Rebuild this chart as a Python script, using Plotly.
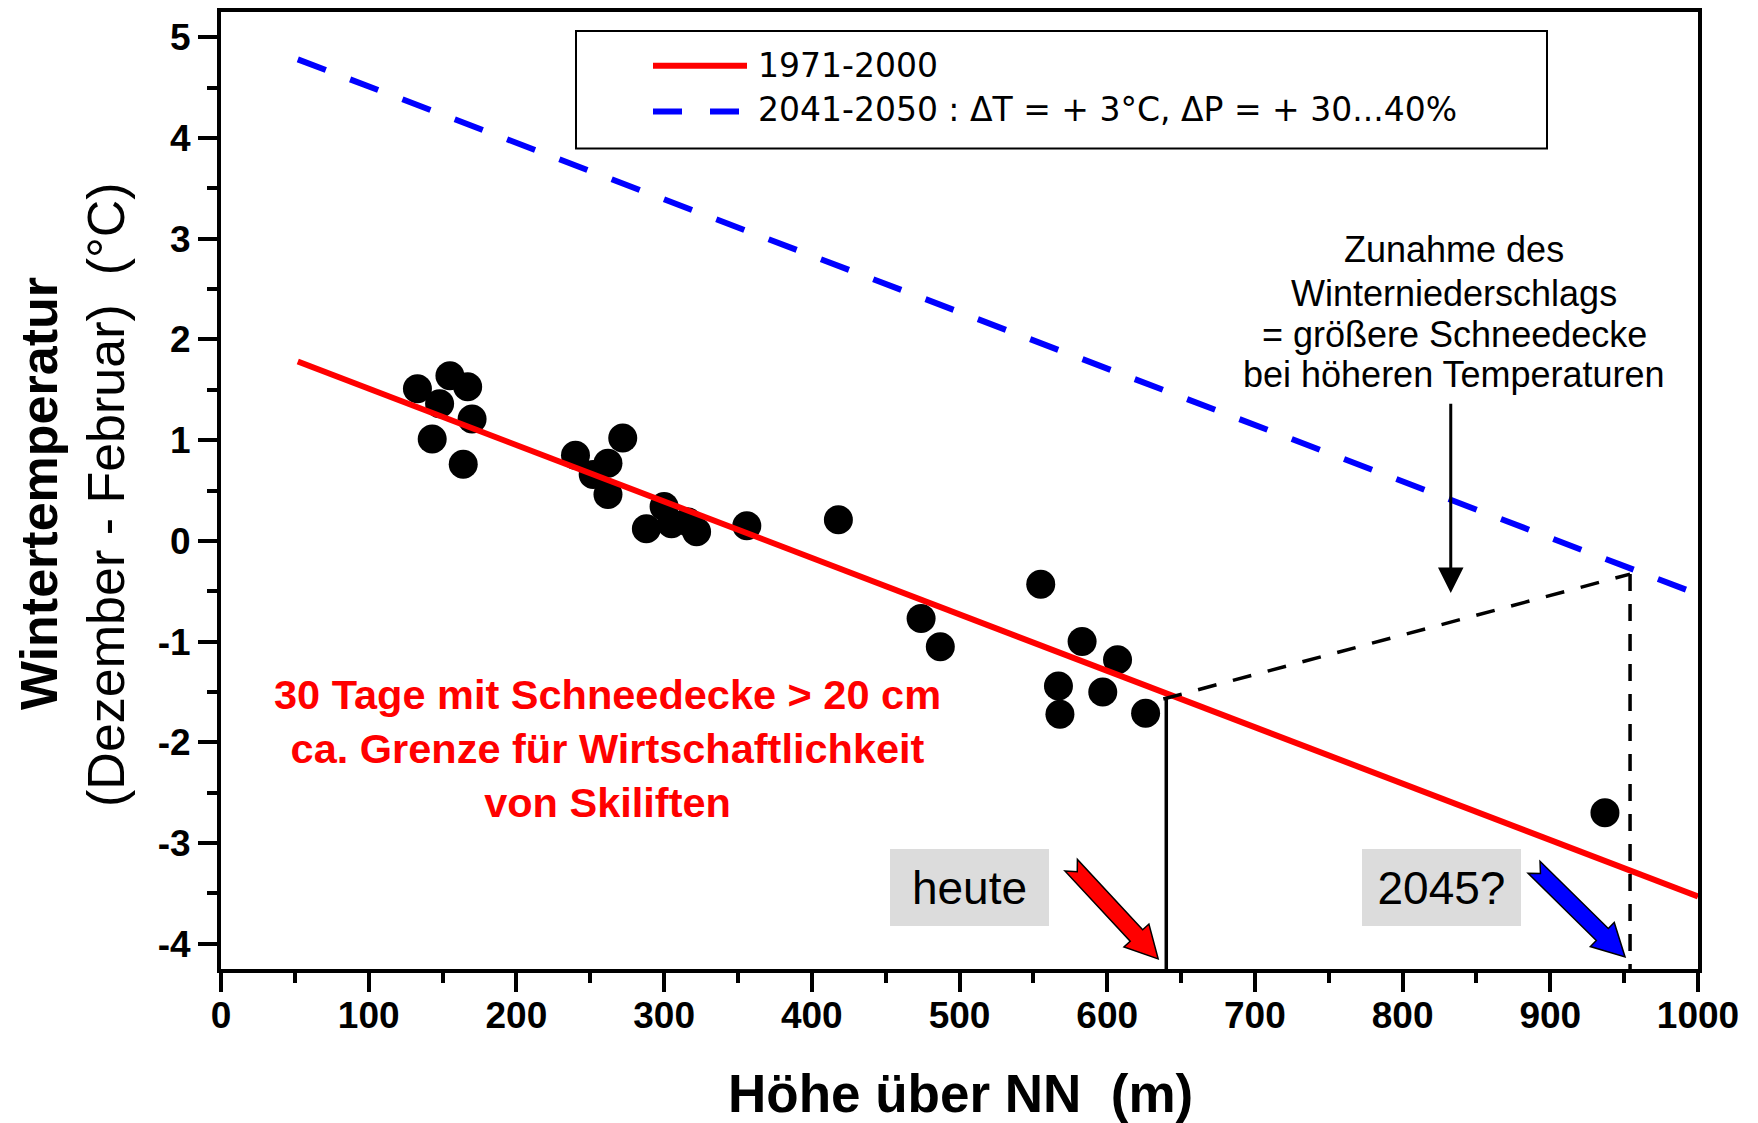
import math
import plotly.graph_objects as go

# ---------------- data ----------------
elevation_m = [133, 155, 167, 148, 170, 143, 164,
               240, 272, 262, 252, 262,
               300, 288, 305, 316, 322, 356, 418,
               474, 487, 555, 583, 607, 567, 597, 568, 626, 937]
winter_temp = [1.51, 1.64, 1.53, 1.36, 1.21, 1.01, 0.76,
               0.85, 1.02, 0.77, 0.66, 0.46,
               0.34, 0.12, 0.17, 0.19, 0.09, 0.15, 0.21,
               -0.77, -1.05, -0.43, -1.00, -1.18, -1.44, -1.50, -1.72, -1.71, -2.70]

trend_x = [52, 1000]
trend_1971_2000 = [1.78, -3.53]
trend_2041_2050 = [4.78, -0.53]

limit_today_x = [640, 640]
limit_today_y = [-4.25, -1.57]
shift_x = [638, 954]
shift_y = [-1.57, -0.33]
limit_future_x = [954, 954]
limit_future_y = [-0.33, -4.25]

x_ticks = [0, 100, 200, 300, 400, 500, 600, 700, 800, 900, 1000]
y_ticks = [-4, -3, -2, -1, 0, 1, 2, 3, 4, 5]
y_ticktext = ["-4", "-3", "-2", "-1", "0", "1", "2", "3", "4", "5"]

legend_labels = ["1971-2000", "2041-2050 : \u0394T = + 3\u00b0C, \u0394P = + 30...40%"]

arrow_today = {"tail": [575.6, -3.22], "tip": [634.5, -4.15]}
arrow_future = {"tail": [889.0, -3.24], "tip": [950.6, -4.13]}
precip_arrow = {"from": [832.6, 1.375], "to": [832.6, -0.517]}

note_lines = ["Zunahme des", "Winterniederschlags", "= gr\u00f6\u00dfere Schneedecke",
              "bei h\u00f6heren Temperaturen"]
note_y = [2.89, 2.46, 2.05, 1.65]

# ---------------- layout constants ----------------
W, H = 1758, 1123
ML, MR, MT, MB = 221, 60, 8, 154
XR = [0, 1000]
YR = [-4.25, 5.25]
PW = W - ML - MR
PH = H - MT - MB
SX = PW / (XR[1] - XR[0])
SY = PH / (YR[1] - YR[0])

ARIAL = "Liberation Sans, Arial, sans-serif"
WIDE = "DejaVu Sans, Verdana, sans-serif"


def px_to_paper(px, py):
    return (px - ML) / PW, (MT + PH - py) / PH


def block_arrow(tail, tip, w=8.5, hw=17, hl=32, nd=9):
    # compute in pixel space, return svg path in data coords
    tx, ty = tail[0] * SX, -tail[1] * SY
    px_, py_ = tip[0] * SX, -tip[1] * SY
    dx, dy = px_ - tx, py_ - ty
    L = math.hypot(dx, dy)
    ux, uy = dx / L, dy / L
    nx, ny = -uy, ux
    pts_local = [(0, w), (nd, 0), (0, -w), (L - hl, -w), (L - hl, -hw), (L, 0),
                 (L - hl, hw), (L - hl, w)]
    pts = []
    for a, b in pts_local:
        X = tx + a * ux + b * nx
        Y = ty + a * uy + b * ny
        pts.append((X / SX, -Y / SY))
    return "M " + " L ".join(f"{x:.3f},{y:.4f}" for x, y in pts) + " Z"


fig = go.Figure()

fig.add_trace(go.Scatter(x=elevation_m, y=winter_temp, mode="markers",
                         marker=dict(size=29, color="black", line=dict(width=0)),
                         showlegend=False, cliponaxis=False))
fig.add_trace(go.Scatter(x=trend_x, y=trend_2041_2050, mode="lines",
                         line=dict(color="#0000ff", width=6, dash="30px,26px"),
                         showlegend=False))
fig.add_trace(go.Scatter(x=trend_x, y=trend_1971_2000, mode="lines",
                         line=dict(color="#ff0000", width=6),
                         showlegend=False))
fig.add_trace(go.Scatter(x=limit_today_x, y=limit_today_y, mode="lines",
                         line=dict(color="black", width=3.5), showlegend=False))
fig.add_trace(go.Scatter(x=shift_x, y=shift_y, mode="lines",
                         line=dict(color="black", width=3.5, dash="19px,17px"),
                         showlegend=False))
fig.add_trace(go.Scatter(x=limit_future_x, y=limit_future_y, mode="lines",
                         line=dict(color="black", width=3.5, dash="17px,13px"),
                         showlegend=False))

shapes = []
# block arrows
shapes.append(dict(type="path", xref="x", yref="y",
                   path=block_arrow(arrow_today["tail"], arrow_today["tip"]),
                   fillcolor="#ff0000", line=dict(color="black", width=1.5)))
shapes.append(dict(type="path", xref="x", yref="y",
                   path=block_arrow(arrow_future["tail"], arrow_future["tip"]),
                   fillcolor="#0000ff", line=dict(color="black", width=1.5)))

# manual legend
lx0, ly0 = px_to_paper(576, 27)
lx1, ly1 = px_to_paper(1547, 145)
shapes.append(dict(type="rect", xref="paper", yref="paper", x0=lx0, x1=lx1, y0=ly1, y1=ly0,
                   line=dict(color="black", width=2), fillcolor="white", layer="above"))
sx0, sy_red = px_to_paper(653, 62)
sx1, _ = px_to_paper(747, 62)
_, sy_blue = px_to_paper(653, 108)
shapes.append(dict(type="line", xref="paper", yref="paper", x0=sx0, x1=sx1, y0=sy_red, y1=sy_red,
                   line=dict(color="#ff0000", width=6), layer="above"))
shapes.append(dict(type="line", xref="paper", yref="paper", x0=sx0, x1=sx1, y0=sy_blue, y1=sy_blue,
                   line=dict(color="#0000ff", width=6, dash="29px,28px"), layer="above"))

annotations = []
tx_leg, _ = px_to_paper(756, 0)
for lab, py in zip(legend_labels, [62, 106]):
    _, yy = px_to_paper(0, py)
    annotations.append(dict(xref="paper", yref="paper", x=tx_leg, y=yy, text=lab,
                            showarrow=False, xanchor="left", yanchor="middle",
                            font=dict(family=WIDE, size=33, color="black")))

# axis titles
ax_, ay_ = px_to_paper(960, 1094)
annotations.append(dict(xref="paper", yref="paper", x=ax_, y=ay_,
                        text="H\u00f6he \u00fcber NN  (m)", showarrow=False,
                        xanchor="center", yanchor="middle",
                        font=dict(family=ARIAL, size=53, color="black", weight="bold")))
bx, by = px_to_paper(39, 492)
annotations.append(dict(xref="paper", yref="paper", x=bx, y=by, text="Wintertemperatur",
                        showarrow=False, textangle=-90, xanchor="center", yanchor="middle",
                        font=dict(family=ARIAL, size=52, color="black", weight="bold")))
rx, ry = px_to_paper(106, 493)
annotations.append(dict(xref="paper", yref="paper", x=rx, y=ry,
                        text="(Dezember - Februar)  (\u00b0C)",
                        showarrow=False, textangle=-90, xanchor="center", yanchor="middle",
                        font=dict(family=ARIAL, size=52, color="black")))

# red note
annotations.append(dict(xref="x", yref="y", x=261.4, y=-2.06,
                        text="30 Tage mit Schneedecke > 20 cm<br>ca. Grenze f\u00fcr Wirtschaftlichkeit<br>von Skiliften",
                        showarrow=False, align="center", xanchor="center", yanchor="middle",
                        font=dict(family=ARIAL, size=41.5, color="#ff0000", weight="bold")))

# precipitation note
for line, yv in zip(note_lines, note_y):
    annotations.append(dict(xref="x", yref="y", x=835, y=yv, text=line, showarrow=False,
                            xanchor="center", yanchor="middle",
                            font=dict(family=ARIAL, size=36, color="black")))
annotations.append(dict(xref="x", yref="y", axref="x", ayref="y",
                        x=precip_arrow["to"][0], y=precip_arrow["to"][1],
                        ax=precip_arrow["from"][0], ay=precip_arrow["from"][1],
                        text="", showarrow=True, arrowhead=2, arrowsize=1.7,
                        arrowwidth=3, arrowcolor="black", standoff=0))

# grey labels
for txt, xv in [("heute", 507.1), ("2045?", 826.1)]:
    annotations.append(dict(xref="x", yref="y", x=xv, y=-3.444, text=txt, showarrow=False,
                            xanchor="center", yanchor="middle", width=159, height=77,
                            bgcolor="#dcdcdc", borderpad=0, borderwidth=0,
                            font=dict(family=ARIAL, size=46, color="black")))

tickfont = dict(family=ARIAL, size=37, color="black", weight="bold")

fig.update_layout(
    width=W, height=H,
    margin=dict(l=ML, r=MR, t=MT, b=MB, pad=0),
    paper_bgcolor="white", plot_bgcolor="white",
    showlegend=False,
    shapes=shapes, annotations=annotations,
    xaxis=dict(range=XR, tickvals=x_ticks, ticktext=[str(v) for v in x_ticks],
               ticks="outside", ticklen=19, tickwidth=4, tickcolor="black",
               ticklabelstandoff=-8,
               showline=True, linewidth=4, linecolor="black", mirror=True,
               showgrid=False, zeroline=False, tickfont=tickfont,
               minor=dict(tickvals=[50, 150, 250, 350, 450, 550, 650, 750, 850, 950],
                          ticks="outside", ticklen=10, tickwidth=4, tickcolor="black",
                          showgrid=False)),
    yaxis=dict(range=YR, tickvals=y_ticks, ticktext=y_ticktext,
               ticks="outside", ticklen=19, tickwidth=4, tickcolor="black",
               showline=True, linewidth=4, linecolor="black", mirror=True,
               showgrid=False, zeroline=False, tickfont=tickfont,
               minor=dict(tickvals=[-3.5, -2.5, -1.5, -0.5, 0.5, 1.5, 2.5, 3.5, 4.5],
                          ticks="outside", ticklen=10, tickwidth=4, tickcolor="black",
                          showgrid=False)),
)

fig.write_html("out.html")
